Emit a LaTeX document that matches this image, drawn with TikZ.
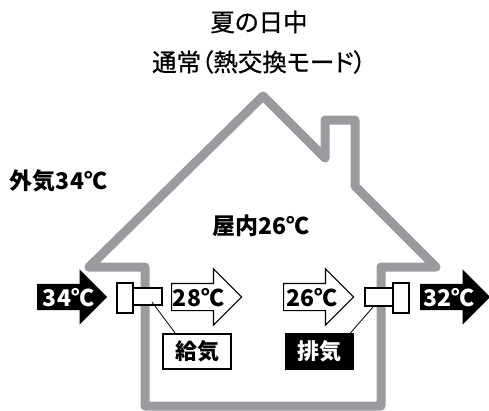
\documentclass[tikz,border=0pt]{standalone}
\usepackage{fontspec}
\setmainfont{Noto Sans CJK JP}
\newfontfamily\titlefont{Noto Sans CJK JP}[FakeBold=0.7, RawFeature=+palt]
\usetikzlibrary{shapes.arrows}
\definecolor{housegray}{HTML}{9A9B9F}

\begin{document}
\begin{tikzpicture}[x=1pt, y=-1pt]
  \tikzset{
    title_text/.style={font=\titlefont\fontsize{24.5}{29}\selectfont},
    bold_text/.style={font=\fontsize{23}{27}\selectfont\bfseries},
    black_arrow/.style={single arrow, fill=black, draw=none, minimum height=70pt, single arrow head extend=14.5pt, inner xsep=0pt, inner ysep=13pt, text height=0pt, text depth=0pt},
    white_arrow/.style={black_arrow, fill=white, draw=black, line width=1.1pt},
    vent_box/.style={rectangle, draw=black, fill=white, line width=1.1pt, inner sep=0pt},
    tag_box/.style={rectangle, draw=black, line width=1.1pt, minimum width=68pt, minimum height=35pt, inner sep=0pt, font=\fontsize{22}{26}\selectfont\bfseries},
    leader/.style={draw=black, line width=0.8pt}
  }
  \useasboundingbox (0,0) rectangle (489,410);

  % Títulos
  \node[title_text] (title_day) at (259,22) {夏の日中};
  \node[title_text] (title_mode) at (259,62) {通常（熱交換モード）};

  % Casa
  \draw[housegray, line width=9pt, line join=round]
    (89,267) -- (263,96) -- (325,158) -- (325,120) -- (355,120) -- (355,186)
    -- (436,267) -- (381,267) -- (381,406) -- (145,406) -- (145,267) -- cycle;

  % Temperaturas
  \node[bold_text] (outside_temp) at (58.5,181) {外気34℃};
  \node[bold_text] (inside_temp) at (261,226) {屋内26℃};

  % Flechas
  \node[black_arrow, anchor=tail] (in_arrow) at (37,297) {};
  \node[white_arrow, anchor=tail] (supply_arrow) at (171,297) {};
  \node[white_arrow, anchor=tail] (exhaust_arrow) at (283,297) {};
  \node[black_arrow, anchor=tail] (out_arrow) at (420,297) {};
  \node[bold_text, text=white] (in_temp) at (68.5,298) {34℃};
  \node[bold_text] (supply_temp) at (198.5,298) {28℃};
  \node[bold_text] (exhaust_temp) at (312,298) {26℃};
  \node[bold_text, text=white] (out_temp) at (448.5,298) {32℃};

  % Rejillas
  \node[vent_box, minimum width=29pt, minimum height=17pt] (supply_inner) at (147.5,296.5) {};
  \node[vent_box, minimum width=16pt, minimum height=30pt] (supply_outer) at (125,298) {};
  \node[vent_box, minimum width=28pt, minimum height=18pt] (exhaust_inner) at (379,297) {};
  \node[vent_box, minimum width=16pt, minimum height=30pt] (exhaust_outer) at (401,298) {};

  % Etiquetas
  \node[tag_box, fill=white] (supply_tag) at (197,351.5) {給気};
  \node[tag_box, fill=black, text=white] (exhaust_tag) at (319.5,351.5) {排気};
  \coordinate (supply_point) at (152,302);
  \coordinate (exhaust_point) at (373,307);
  \draw[leader] (supply_point) -- ([xshift=13pt]supply_tag.north west);
  \draw[leader] (exhaust_point) -- ([xshift=-4pt]exhaust_tag.north east);
\end{tikzpicture}
\end{document}
